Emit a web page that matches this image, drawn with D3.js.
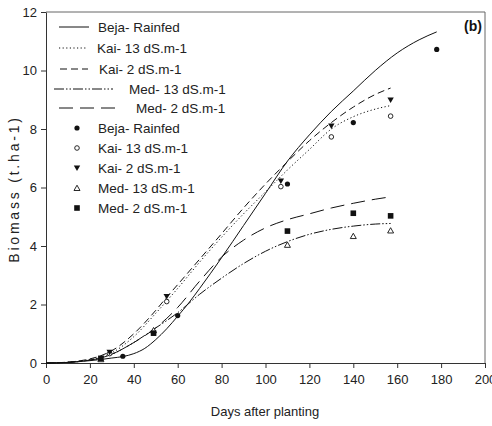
<!DOCTYPE html>
<html>
<head>
<meta charset="utf-8">
<script src="https://cdn.jsdelivr.net/npm/d3@7"></script>
<style>
	body { margin: 0; background: white; }
	text { font-family: "Liberation Sans", Arial, sans-serif; }
</style>
</head>
<body>
<div id="chart"></div>
<script>
// fitted curves, [day, biomass]
var bejaCurve = [[0,0],[10,0.02],[20,0.08],[25,0.12],[30,0.17],[35,0.22],[40,0.32],[45,0.5],[50,0.8],[55,1.17],[60,1.6],[65,2.05],[70,2.55],[80,3.6],[90,4.7],[100,5.8],[110,6.9],[120,7.8],[130,8.6],[140,9.3],[150,10.0],[160,10.6],[170,11.05],[178,11.32]];
var kai13Curve = [[0,0],[10,0.03],[20,0.12],[25,0.2],[30,0.35],[40,0.9],[50,1.7],[55,2.12],[60,2.55],[70,3.45],[80,4.3],[90,5.1],[100,5.85],[110,6.6],[120,7.3],[130,8.0],[140,8.42],[150,8.68],[157,8.8]];
var kai2Curve = [[0,0],[10,0.03],[20,0.14],[25,0.25],[30,0.42],[40,1.0],[50,1.8],[55,2.25],[60,2.68],[70,3.55],[80,4.42],[90,5.3],[100,6.12],[110,6.88],[120,7.6],[130,8.22],[140,8.75],[150,9.18],[157,9.4]];
var med13Curve = [[0,0],[10,0.02],[20,0.1],[25,0.17],[30,0.3],[40,0.7],[50,1.2],[55,1.45],[60,1.72],[70,2.35],[80,2.9],[90,3.4],[100,3.82],[110,4.15],[120,4.4],[130,4.57],[140,4.68],[150,4.75],[157,4.77]];
var med2Curve = [[0,0],[10,0.02],[20,0.1],[25,0.17],[30,0.3],[40,0.7],[50,1.2],[60,1.9],[70,2.8],[80,3.62],[90,4.2],[100,4.62],[110,4.9],[120,5.1],[130,5.3],[140,5.46],[150,5.6],[157,5.68]];

// measured points, [day, biomass]
var bejaPts = [[35,0.23],[60,1.62],[110,6.12],[140,8.22],[178,10.72]];
var kai13Pts = [[29,0.32],[55,2.1],[107,6.03],[130,7.73],[157,8.44]];
var kai2Pts = [[29,0.37],[55,2.27],[107,6.22],[130,8.1],[157,8.99]];
var med13Pts = [[25,0.13],[49,1.12],[110,4.04],[140,4.34],[157,4.53]];
var med2Pts = [[25,0.16],[49,1.02],[110,4.51],[140,5.12],[157,5.03]];

var seriesNames = ["Beja- Rainfed", "Kai- 13 dS.m-1", "Kai- 2 dS.m-1", "Med- 13 dS.m-1", "Med- 2 dS.m-1"];
var xTicks = [0, 20, 40, 60, 80, 100, 120, 140, 160, 180, 200];
var yTicks = [0, 2, 4, 6, 8, 10, 12];

var width = 492, height = 426;

var svg = d3.select("#chart")
	.append("svg")
	.attr("width", width)
	.attr("height", height);

var xscale = d3.scaleLinear().domain([0, 200]).range([46, 485]);
var yscale = d3.scaleLinear().domain([0, 12]).range([363, 12]);

// frame (top/right)
svg.append("path")
	.attr("d", "M" + xscale(0) + "," + yscale(12) + "H" + xscale(200) + "V" + yscale(0))
	.attr("fill", "none")
	.attr("stroke", "#666")
	.attr("stroke-width", 1);

var xAxis = svg.append("g")
	.attr("transform", "translate(0," + yscale(0) + ")")
	.call(d3.axisBottom(xscale).tickValues(xTicks).tickSize(5).tickPadding(7).tickSizeOuter(0));

var yAxis = svg.append("g")
	.attr("transform", "translate(" + xscale(0) + ",0)")
	.call(d3.axisLeft(yscale).tickValues(yTicks).tickSize(5).tickPadding(4).tickSizeOuter(0));

svg.selectAll(".tick text")
	.style("font-size", "13px")
	.style("font-family", "Liberation Sans, Arial, sans-serif")
	.attr("fill", "#222");
svg.selectAll(".domain, .tick line").attr("stroke", "#333");

svg.append("text")
	.attr("x", 265)
	.attr("y", 416)
	.attr("text-anchor", "middle")
	.style("font-size", "13px")
	.attr("fill", "#222")
	.text("Days after planting");

svg.append("text")
	.attr("transform", "translate(19,189) rotate(-90)")
	.attr("text-anchor", "middle")
	.style("font-size", "14px")
	.style("letter-spacing", "2.8px")
	.attr("fill", "#222")
	.text("Biomass (t.ha-1)");

svg.append("text")
	.attr("x", 482)
	.attr("y", 31)
	.attr("text-anchor", "end")
	.style("font-size", "14px")
	.style("font-weight", "bold")
	.attr("fill", "#111")
	.text("(b)");

var dashes = ["none", "1.2,2.4", "7,4", "10,2,1.5,2,1.5,2", "14,7"];
var curves = [bejaCurve, kai13Curve, kai2Curve, med13Curve, med2Curve];
var points = [bejaPts, kai13Pts, kai2Pts, med13Pts, med2Pts];

var line = d3.line()
	.x(function (d) { return xscale(d[0]); })
	.y(function (d) { return yscale(d[1]); })
	.curve(d3.curveMonotoneX);

svg.selectAll(".fit")
	.data(curves)
	.join("path")
	.attr("class", "fit")
	.attr("d", line)
	.attr("fill", "none")
	.attr("stroke", "#111")
	.attr("stroke-width", 1)
	.attr("stroke-dasharray", function (d, i) { return dashes[i]; });

// marker drawer: 0 filled circle, 1 open circle, 2 filled down triangle, 3 open up triangle, 4 filled square
function drawMarker(g, type, x, y) {
	if (type == 0) {
		g.append("circle").attr("cx", x).attr("cy", y).attr("r", 2.6).attr("fill", "#111");
	} else if (type == 1) {
		g.append("circle").attr("cx", x).attr("cy", y).attr("r", 2.3)
			.attr("fill", "white").attr("stroke", "#111").attr("stroke-width", 0.9);
	} else if (type == 2) {
		g.append("path").attr("d", "M" + (x - 3.2) + "," + (y - 2.5) + "h6.4l-3.2,5.5z").attr("fill", "#111");
	} else if (type == 3) {
		g.append("path").attr("d", "M" + (x - 3) + "," + (y + 2.5) + "h6l-3,-5.3z")
			.attr("fill", "white").attr("stroke", "#111").attr("stroke-width", 0.9);
	} else {
		g.append("rect").attr("x", x - 2.8).attr("y", y - 2.8).attr("width", 5.6).attr("height", 5.6).attr("fill", "#111");
	}
}

var gPts = svg.append("g");
points.forEach(function (pts, i) {
	pts.forEach(function (p) {
		drawMarker(gPts, i, xscale(p[0]), yscale(p[1]));
	});
});

// legend
var legend = svg.append("g");
var lineRows = [27, 48, 69, 89, 108];
var lineStart = [59, 59, 60, 54, 59];
var lineEnd = [89, 87, 88, 113, 116];
var textStart = [98, 97, 99, 129, 136];
seriesNames.forEach(function (name, i) {
	legend.append("line")
		.attr("x1", lineStart[i]).attr("x2", lineEnd[i])
		.attr("y1", lineRows[i]).attr("y2", lineRows[i])
		.attr("stroke", "#111")
		.attr("stroke-width", 1)
		.attr("stroke-dasharray", dashes[i]);
	legend.append("text")
		.attr("x", textStart[i])
		.attr("y", lineRows[i] + 5)
		.style("font-size", "13.5px")
		.attr("fill", "#222")
		.text(name);
});
seriesNames.forEach(function (name, i) {
	var yy = 128 + i * 20;
	drawMarker(legend, i, 77, yy);
	legend.append("text")
		.attr("x", 98)
		.attr("y", yy + 5)
		.style("font-size", "13.5px")
		.attr("fill", "#222")
		.text(name);
});
</script>
</body>
</html>
